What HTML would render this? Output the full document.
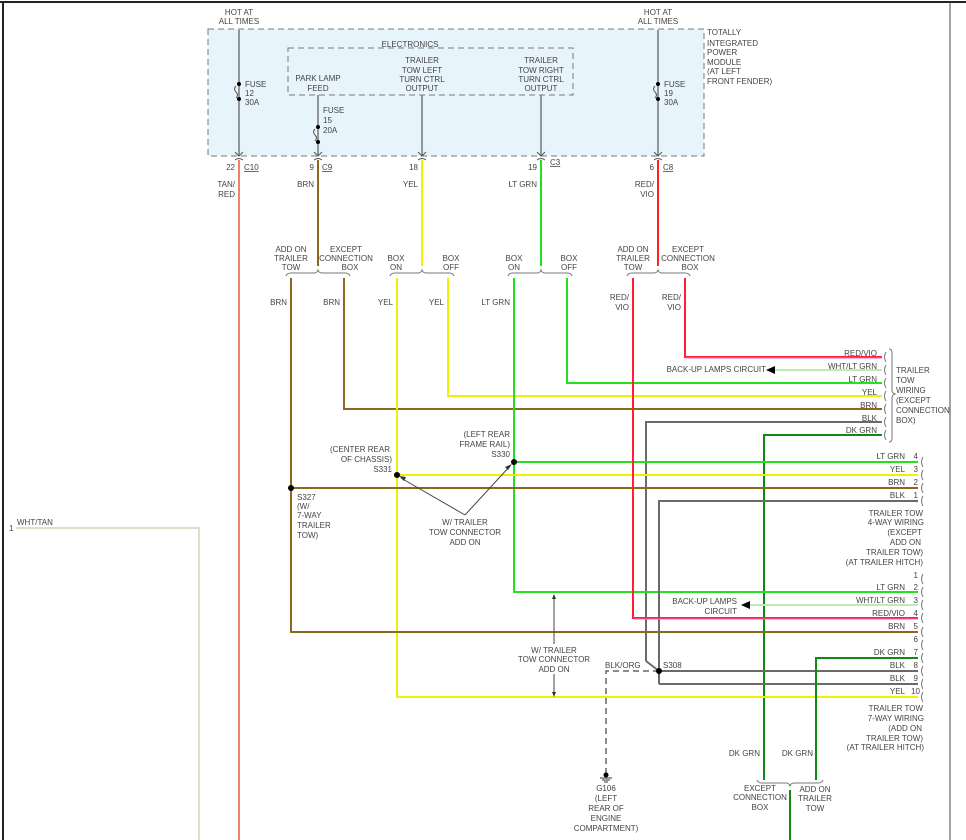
<!DOCTYPE html>
<html><head><meta charset="utf-8"><style>
html,body{margin:0;padding:0;background:#fff;}
svg{display:block;font-family:"Liberation Sans",Arial,sans-serif;font-size:8px;fill:#444;}
text{fill:#444;}
.r{text-anchor:end}.m{text-anchor:middle}
</style></head><body>
<svg width="966" height="840" viewBox="0 0 966 840" xmlns="http://www.w3.org/2000/svg">
<line x1="0" y1="2" x2="966" y2="2" stroke="#222" stroke-width="2"/>
<line x1="3" y1="2" x2="3" y2="840" stroke="#222" stroke-width="2"/>
<line x1="950" y1="2" x2="950" y2="840" stroke="#444" stroke-width="1"/>

<rect x="208" y="29" width="496" height="127" fill="#e8f4fb" stroke="#777" stroke-dasharray="6,4"/>
<rect x="288" y="48" width="285" height="47" fill="none" stroke="#777" stroke-dasharray="6,4"/>
<text x="410" y="47" class="m">ELECTRONICS</text>
<g fill="none" stroke="#777" stroke-width="1.5">
<line x1="239" y1="30" x2="239" y2="156"/><line x1="318" y1="95" x2="318" y2="156"/>
<line x1="422" y1="95" x2="422" y2="156"/><line x1="541" y1="95" x2="541" y2="156"/>
<line x1="658" y1="30" x2="658" y2="156"/>
</g>
<g fill="none" stroke="#555" stroke-width="1">
<path d="M236,86 q-3,3 0,6 q3,3 0,6"/><path d="M315,129 q-3,3 0,6 q3,3 0,6"/><path d="M655,86 q-3,3 0,6 q3,3 0,6"/>
<path d="M235,152 l4,4 l4,-4 M235,160 q4,-3 8,0"/>
<path d="M314,152 l4,4 l4,-4 M314,160 q4,-3 8,0"/>
<path d="M418,152 l4,4 l4,-4 M418,160 q4,-3 8,0"/>
<path d="M537,152 l4,4 l4,-4 M537,160 q4,-3 8,0"/>
<path d="M654,152 l4,4 l4,-4 M654,160 q4,-3 8,0"/>
</g>
<g fill="#000"><circle cx="239" cy="84" r="2"/><circle cx="239" cy="99" r="2"/><circle cx="318" cy="127" r="2"/><circle cx="318" cy="142" r="2"/><circle cx="658" cy="84" r="2"/><circle cx="658" cy="99" r="2"/></g>
<text x="239" y="15" class="m">HOT AT</text><text x="239" y="24" class="m">ALL TIMES</text>
<text x="658" y="15" class="m">HOT AT</text><text x="658" y="24" class="m">ALL TIMES</text>
<text x="245" y="87">FUSE</text><text x="245" y="96">12</text><text x="245" y="105">30A</text>
<text x="323" y="113">FUSE</text><text x="323" y="123">15</text><text x="323" y="133">20A</text>
<text x="664" y="87">FUSE</text><text x="664" y="96">19</text><text x="664" y="105">30A</text>
<text x="318" y="81" class="m">PARK LAMP</text><text x="318" y="91" class="m">FEED</text>
<text x="422" y="63" class="m">TRAILER</text><text x="422" y="73" class="m">TOW LEFT</text><text x="422" y="82" class="m">TURN CTRL</text><text x="422" y="91" class="m">OUTPUT</text>
<text x="541" y="63" class="m">TRAILER</text><text x="541" y="73" class="m">TOW RIGHT</text><text x="541" y="82" class="m">TURN CTRL</text><text x="541" y="91" class="m">OUTPUT</text>
<text x="707" y="35">TOTALLY</text><text x="707" y="46">INTEGRATED</text><text x="707" y="55">POWER</text><text x="707" y="65">MODULE</text><text x="707" y="74">(AT LEFT</text><text x="707" y="84">FRONT FENDER)</text>
<text x="235" y="170" class="r">22</text><text x="244" y="170" text-decoration="underline">C10</text>
<text x="314" y="170" class="r">9</text><text x="322" y="170" text-decoration="underline">C9</text>
<text x="418" y="170" class="r">18</text>
<text x="537" y="170" class="r">19</text><text x="550" y="165" text-decoration="underline">C3</text>
<text x="654" y="170" class="r">6</text><text x="663" y="170" text-decoration="underline">C8</text>
<text x="235" y="187" class="r">TAN/</text><text x="235" y="197" class="r">RED</text>
<text x="314" y="187" class="r">BRN</text><text x="418" y="187" class="r">YEL</text><text x="537" y="187" class="r">LT GRN</text>
<text x="654" y="187" class="r">RED/</text><text x="654" y="197" class="r">VIO</text>

<path d="M16,528 H199 V840" fill="none" stroke="#e2dccb" stroke-width="2"/>
<text x="9" y="531">1</text><text x="17" y="525">WHT/TAN</text>

<line x1="239" y1="160" x2="239" y2="840" stroke="#f08070" stroke-width="2"/>
<line x1="318" y1="160" x2="318" y2="266" stroke="#8a6a1a" stroke-width="2"/>
<line x1="422" y1="160" x2="422" y2="266" stroke="#f0f000" stroke-width="2"/>
<line x1="541" y1="160" x2="541" y2="266" stroke="#22e022" stroke-width="2"/>
<line x1="658" y1="160" x2="658" y2="266" stroke="#ff2020" stroke-width="2"/>

<g fill="none" stroke="#777" stroke-width="1">
<path d="M286,276 q1,-3 5,-3 H314 q3,0 4,-3 q1,3 4,3 H345 q4,0 5,3"/>
<path d="M390,276 q1,-3 5,-3 H418 q3,0 4,-3 q1,3 4,3 H449 q4,0 5,3"/>
<path d="M508,276 q1,-3 5,-3 H537 q3,0 4,-3 q1,3 4,3 H567 q4,0 5,3"/>
<path d="M627,276 q1,-3 5,-3 H654 q3,0 4,-3 q1,3 4,3 H685 q4,0 5,3"/>
<path d="M757,780 q1,3 5,3 H786 q3,0 4,3 q1,-3 4,-3 H818 q4,0 5,-3"/>
</g>
<text x="291" y="252" class="m">ADD ON</text><text x="291" y="261" class="m">TRAILER</text><text x="291" y="270" class="m">TOW</text>
<text x="346" y="252" class="m">EXCEPT</text><text x="346" y="261" class="m">CONNECTION</text><text x="350" y="270" class="m">BOX</text>
<text x="396" y="261" class="m">BOX</text><text x="396" y="270" class="m">ON</text><text x="451" y="261" class="m">BOX</text><text x="451" y="270" class="m">OFF</text>
<text x="514" y="261" class="m">BOX</text><text x="514" y="270" class="m">ON</text><text x="569" y="261" class="m">BOX</text><text x="569" y="270" class="m">OFF</text>
<text x="633" y="252" class="m">ADD ON</text><text x="633" y="261" class="m">TRAILER</text><text x="633" y="270" class="m">TOW</text>
<text x="688" y="252" class="m">EXCEPT</text><text x="688" y="261" class="m">CONNECTION</text><text x="690" y="270" class="m">BOX</text>
<text x="287" y="305" class="r">BRN</text><text x="340" y="305" class="r">BRN</text>
<text x="393" y="305" class="r">YEL</text><text x="444" y="305" class="r">YEL</text>
<text x="510" y="305" class="r">LT GRN</text>
<text x="629" y="300" class="r">RED/</text><text x="629" y="310" class="r">VIO</text>
<text x="681" y="300" class="r">RED/</text><text x="681" y="310" class="r">VIO</text>

<g fill="none" stroke-width="2">
<path d="M685,278 V357 H882" stroke="#ff2030"/>
<path d="M686,358 H882" stroke="#ff60c0" stroke-width="1"/>
<path d="M775,370 H882" stroke="#b8ecb8"/>
<path d="M567,278 V383 H882" stroke="#22e022"/>
<path d="M448,278 V396 H882" stroke="#f0f000"/>
<path d="M344,278 V409 H882" stroke="#8a6a1a"/>
<path d="M646,661 V422 H882" stroke="#6a6a6a"/>
<path d="M764,780 V435 H882" stroke="#118a11"/>
<path d="M514,278 V592 H918" stroke="#22e022"/>
<path d="M514,462 H918" stroke="#22e022"/>
<path d="M397,278 V697 H918" stroke="#f0f000"/>
<path d="M397,475 H918" stroke="#f0f000"/>
<path d="M291,278 V632 H918" stroke="#8a6a1a"/>
<path d="M291,488 H918" stroke="#8a6a1a"/>
<path d="M659,684 V501 H918" stroke="#6a6a6a"/>
<path d="M633,278 V618 H918" stroke="#ff2030"/>
<path d="M634,619 H918" stroke="#ff60c0" stroke-width="1"/>
<path d="M750,605 H918" stroke="#b8ecb8"/>
<path d="M659,671 H918" stroke="#6a6a6a"/>
<path d="M659,684 H918" stroke="#6a6a6a"/>
<path d="M816,780 V658 H918" stroke="#118a11"/>
<path d="M790,790 V840" stroke="#118a11"/>
</g>
<path d="M646,661 L659,671" stroke="#6a6a6a" stroke-width="2" fill="none"/>
<path d="M659,671 H606 V773" stroke="#666" stroke-width="1.5" stroke-dasharray="6,4" fill="none"/>
<g fill="#000"><circle cx="291" cy="488" r="3"/><circle cx="397" cy="475" r="3"/><circle cx="514" cy="462" r="3"/><circle cx="659" cy="671" r="3"/><circle cx="606" cy="775" r="2.5"/></g>
<path d="M600,778 H612 M602,780 H610 M604,782 H608" stroke="#333" stroke-width="1"/>
<polygon points="766,370 775,366 775,374" fill="#000"/>
<polygon points="741,605 750,601 750,609" fill="#000"/>
<g stroke="#444" stroke-width="1" fill="none">
<path d="M465,515 L401,478 M465,515 L510,466"/>
<path d="M554,597 V644 M554,674 V694"/>
</g>
<polygon points="399,476 406,477 404,481" fill="#333"/><polygon points="512,464 508,470 505,467" fill="#333"/>
<polygon points="554,594 552,599 556,599" fill="#333"/><polygon points="554,697 552,692 556,692" fill="#333"/>

<g fill="none" stroke="#777" stroke-width="1">
<path d="M886,352 q-3,5 0,10 M886,365 q-3,5 0,10 M886,378 q-3,5 0,10 M886,391 q-3,5 0,10 M886,404 q-3,5 0,10 M886,417 q-3,5 0,10 M886,430 q-3,5 0,10"/>
<path d="M889,349 q3,0 3,4 V390 q0,3 3,4 q-3,1 -3,4 V438 q0,4 -3,4"/>
<path d="M923,457 q-3,5 0,10 M923,470 q-3,5 0,10 M923,483 q-3,5 0,10 M923,496 q-3,5 0,10"/>
<path d="M923,574 q-3,5 0,10 M923,587 q-3,5 0,10 M923,600 q-3,5 0,10 M923,613 q-3,5 0,10 M923,627 q-3,5 0,10 M923,640 q-3,5 0,10 M923,653 q-3,5 0,10 M923,666 q-3,5 0,10 M923,679 q-3,5 0,10 M923,692 q-3,5 0,10"/>
</g>
<text x="877" y="356" class="r">RED/VIO</text><text x="877" y="369" class="r">WHT/LT GRN</text><text x="877" y="382" class="r">LT GRN</text>
<text x="877" y="395" class="r">YEL</text><text x="877" y="408" class="r">BRN</text><text x="877" y="421" class="r">BLK</text><text x="877" y="433" class="r">DK GRN</text>
<text x="766" y="372" class="r">BACK-UP LAMPS CIRCUIT</text>
<text x="896" y="373">TRAILER</text><text x="896" y="383">TOW</text><text x="896" y="393">WIRING</text><text x="896" y="403">(EXCEPT</text><text x="896" y="413">CONNECTION</text><text x="896" y="423">BOX)</text>
<text x="905" y="459" class="r">LT GRN</text><text x="918" y="459" class="r">4</text>
<text x="905" y="472" class="r">YEL</text><text x="918" y="472" class="r">3</text>
<text x="905" y="485" class="r">BRN</text><text x="918" y="485" class="r">2</text>
<text x="905" y="498" class="r">BLK</text><text x="918" y="498" class="r">1</text>
<text x="923" y="516" class="r">TRAILER TOW</text><text x="924" y="525" class="r">4-WAY WIRING</text><text x="922" y="535" class="r">(EXCEPT</text><text x="921" y="545" class="r">ADD ON</text><text x="923" y="555" class="r">TRAILER TOW)</text><text x="923" y="565" class="r">(AT TRAILER HITCH)</text>
<text x="918" y="578" class="r">1</text>
<text x="905" y="590" class="r">LT GRN</text><text x="918" y="590" class="r">2</text>
<text x="905" y="603" class="r">WHT/LT GRN</text><text x="918" y="603" class="r">3</text>
<text x="905" y="616" class="r">RED/VIO</text><text x="918" y="616" class="r">4</text>
<text x="905" y="629" class="r">BRN</text><text x="918" y="629" class="r">5</text>
<text x="918" y="642" class="r">6</text>
<text x="905" y="655" class="r">DK GRN</text><text x="918" y="655" class="r">7</text>
<text x="905" y="668" class="r">BLK</text><text x="918" y="668" class="r">8</text>
<text x="905" y="681" class="r">BLK</text><text x="918" y="681" class="r">9</text>
<text x="905" y="694" class="r">YEL</text><text x="920" y="694" class="r">10</text>
<text x="923" y="711" class="r">TRAILER TOW</text><text x="924" y="721" class="r">7-WAY WIRING</text><text x="922" y="731" class="r">(ADD ON</text><text x="923" y="741" class="r">TRAILER TOW)</text><text x="924" y="750" class="r">(AT TRAILER HITCH)</text>
<text x="737" y="604" class="r">BACK-UP LAMPS</text><text x="737" y="614" class="r">CIRCUIT</text>
<text x="760" y="756" class="r">DK GRN</text><text x="813" y="756" class="r">DK GRN</text>
<text x="760" y="791" class="m">EXCEPT</text><text x="760" y="800" class="m">CONNECTION</text><text x="760" y="810" class="m">BOX</text>
<text x="815" y="792" class="m">ADD ON</text><text x="815" y="801" class="m">TRAILER</text><text x="815" y="811" class="m">TOW</text>
<text x="554" y="653" class="m">W/ TRAILER</text><text x="554" y="662" class="m">TOW CONNECTOR</text><text x="554" y="672" class="m">ADD ON</text>
<text x="465" y="525" class="m">W/ TRAILER</text><text x="465" y="535" class="m">TOW CONNECTOR</text><text x="465" y="545" class="m">ADD ON</text>
<text x="390" y="452" class="r">(CENTER REAR</text><text x="392" y="462" class="r">OF CHASSIS)</text><text x="392" y="472" class="r">S331</text>
<text x="510" y="437" class="r">(LEFT REAR</text><text x="510" y="447" class="r">FRAME RAIL)</text><text x="510" y="457" class="r">S330</text>
<text x="297" y="500">S327</text><text x="297" y="509">(W/</text><text x="297" y="518">7-WAY</text><text x="297" y="528">TRAILER</text><text x="297" y="538">TOW)</text>
<text x="663" y="668">S308</text><text x="605" y="668">BLK/ORG</text>
<text x="606" y="791" class="m">G106</text><text x="606" y="801" class="m">(LEFT</text><text x="606" y="811" class="m">REAR OF</text><text x="606" y="821" class="m">ENGINE</text><text x="606" y="831" class="m">COMPARTMENT)</text>
</svg>
</body></html>
